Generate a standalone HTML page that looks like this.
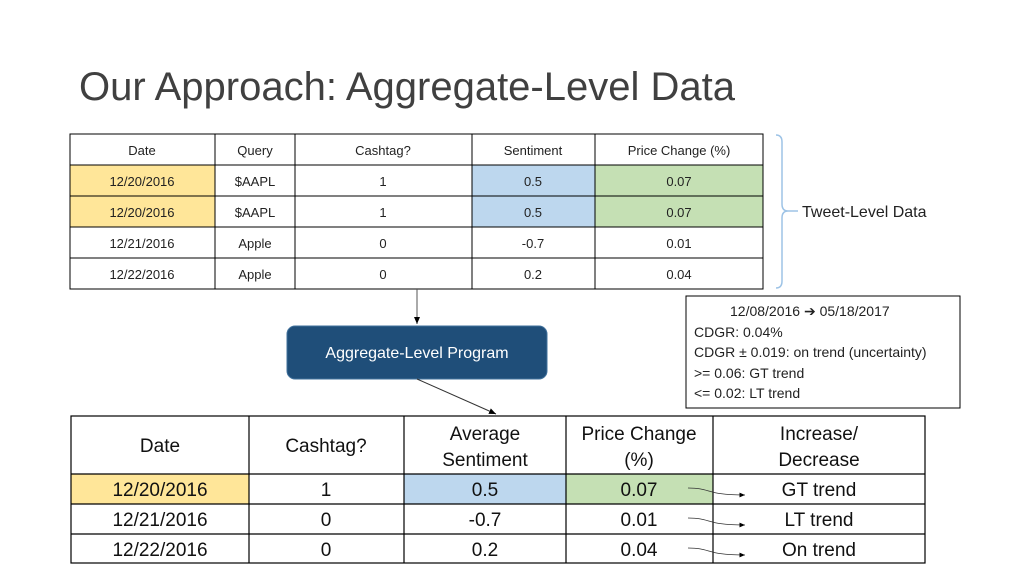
<!DOCTYPE html>
<html><head><meta charset="utf-8"><style>
body{margin:0;background:#fff}
svg{display:block;font-family:"Liberation Sans",sans-serif}
</style></head><body>
<svg width="1024" height="576" viewBox="0 0 1024 576">
<defs><marker id="ah" markerWidth="8" markerHeight="8" refX="7" refY="4" orient="auto"><path d="M0,1 L7,4 L0,7z" fill="#000"/></marker></defs>
<text x="79" y="100" font-size="40" fill="#404040">Our Approach: Aggregate-Level Data</text>

<g font-size="13" fill="#222" text-anchor="middle">
<rect x="70" y="165" width="145" height="62" fill="#ffe699"/>
<rect x="472" y="165" width="123" height="62" fill="#bdd7ee"/>
<rect x="595" y="165" width="168" height="62" fill="#c5e0b4"/>
<g stroke="#000" stroke-width="1">
<rect x="70" y="134" width="693" height="155" fill="none"/>
<line x1="70" y1="165" x2="763" y2="165"/><line x1="70" y1="196" x2="763" y2="196"/><line x1="70" y1="227" x2="763" y2="227"/><line x1="70" y1="258" x2="763" y2="258"/>
<line x1="215" y1="134" x2="215" y2="289"/><line x1="295" y1="134" x2="295" y2="289"/><line x1="472" y1="134" x2="472" y2="289"/><line x1="595" y1="134" x2="595" y2="289"/>
</g>
<text x="142" y="155">Date</text><text x="255" y="155">Query</text><text x="383" y="155">Cashtag?</text><text x="533" y="155">Sentiment</text><text x="679" y="155">Price Change (%)</text>
<text x="142" y="186">12/20/2016</text><text x="255" y="186">$AAPL</text><text x="383" y="186">1</text><text x="533" y="186">0.5</text><text x="679" y="186">0.07</text>
<text x="142" y="217">12/20/2016</text><text x="255" y="217">$AAPL</text><text x="383" y="217">1</text><text x="533" y="217">0.5</text><text x="679" y="217">0.07</text>
<text x="142" y="248">12/21/2016</text><text x="255" y="248">Apple</text><text x="383" y="248">0</text><text x="533" y="248">-0.7</text><text x="679" y="248">0.01</text>
<text x="142" y="279">12/22/2016</text><text x="255" y="279">Apple</text><text x="383" y="279">0</text><text x="533" y="279">0.2</text><text x="679" y="279">0.04</text>
</g>

<path d="M776,135 Q782,135 782,142 L782,204 Q782,211 788,211 Q782,211 782,218 L782,281 Q782,288 776,288" fill="none" stroke="#9dc3e6" stroke-width="1.5"/>
<line x1="788" y1="211" x2="798" y2="211" stroke="#9dc3e6" stroke-width="1.5"/>
<text x="802" y="217" font-size="16" fill="#222">Tweet-Level Data</text>

<line x1="417" y1="289" x2="417" y2="324" stroke="#555" marker-end="url(#ah)"/>
<rect x="287" y="326" width="260" height="53" rx="8" fill="#1f4e79" stroke="#41719c"/>
<text x="417" y="358" font-size="16" fill="#fff" text-anchor="middle">Aggregate-Level Program</text>
<line x1="417" y1="379" x2="496" y2="414" stroke="#333" marker-end="url(#ah)"/>

<g font-size="14" fill="#222">
<rect x="686" y="296" width="274" height="112" fill="#fff" stroke="#000"/>
<text x="730" y="316">12/08/2016 ➔ 05/18/2017</text>
<text x="694" y="337">CDGR: 0.04%</text>
<text x="694" y="357">CDGR ± 0.019: on trend (uncertainty)</text>
<text x="694" y="378">&gt;= 0.06: GT trend</text>
<text x="694" y="398">&lt;= 0.02: LT trend</text>
</g>

<g font-size="19" fill="#111" text-anchor="middle">
<rect x="71" y="474" width="178" height="30" fill="#ffe699"/>
<rect x="404" y="474" width="162" height="30" fill="#bdd7ee"/>
<rect x="566" y="474" width="147" height="30" fill="#c5e0b4"/>
<g stroke="#000" stroke-width="1.2">
<rect x="71" y="416" width="854" height="147" fill="none"/>
<line x1="71" y1="474" x2="925" y2="474"/><line x1="71" y1="504" x2="925" y2="504"/><line x1="71" y1="534" x2="925" y2="534"/>
<line x1="249" y1="416" x2="249" y2="563"/><line x1="404" y1="416" x2="404" y2="563"/><line x1="566" y1="416" x2="566" y2="563"/><line x1="713" y1="416" x2="713" y2="563"/>
</g>
<text x="160" y="452">Date</text><text x="326" y="452">Cashtag?</text>
<text x="485" y="440">Average</text><text x="485" y="466">Sentiment</text>
<text x="639" y="440">Price Change</text><text x="639" y="466">(%)</text>
<text x="819" y="440">Increase/</text><text x="819" y="466">Decrease</text>
<text x="160" y="496">12/20/2016</text><text x="326" y="496">1</text><text x="485" y="496">0.5</text><text x="639" y="496">0.07</text><text x="819" y="496">GT trend</text>
<text x="160" y="526">12/21/2016</text><text x="326" y="526">0</text><text x="485" y="526">-0.7</text><text x="639" y="526">0.01</text><text x="819" y="526">LT trend</text>
<text x="160" y="556">12/22/2016</text><text x="326" y="556">0</text><text x="485" y="556">0.2</text><text x="639" y="556">0.04</text><text x="819" y="556">On trend</text>
</g>
<g fill="none" stroke="#333" stroke-width="0.8">
<path d="M688,488 C712,488 705,495 745,495" marker-end="url(#ah)"/>
<path d="M688,518 C712,518 705,525 745,525" marker-end="url(#ah)"/>
<path d="M688,548 C712,548 705,555 745,555" marker-end="url(#ah)"/>
</g>
</svg>
</body></html>
